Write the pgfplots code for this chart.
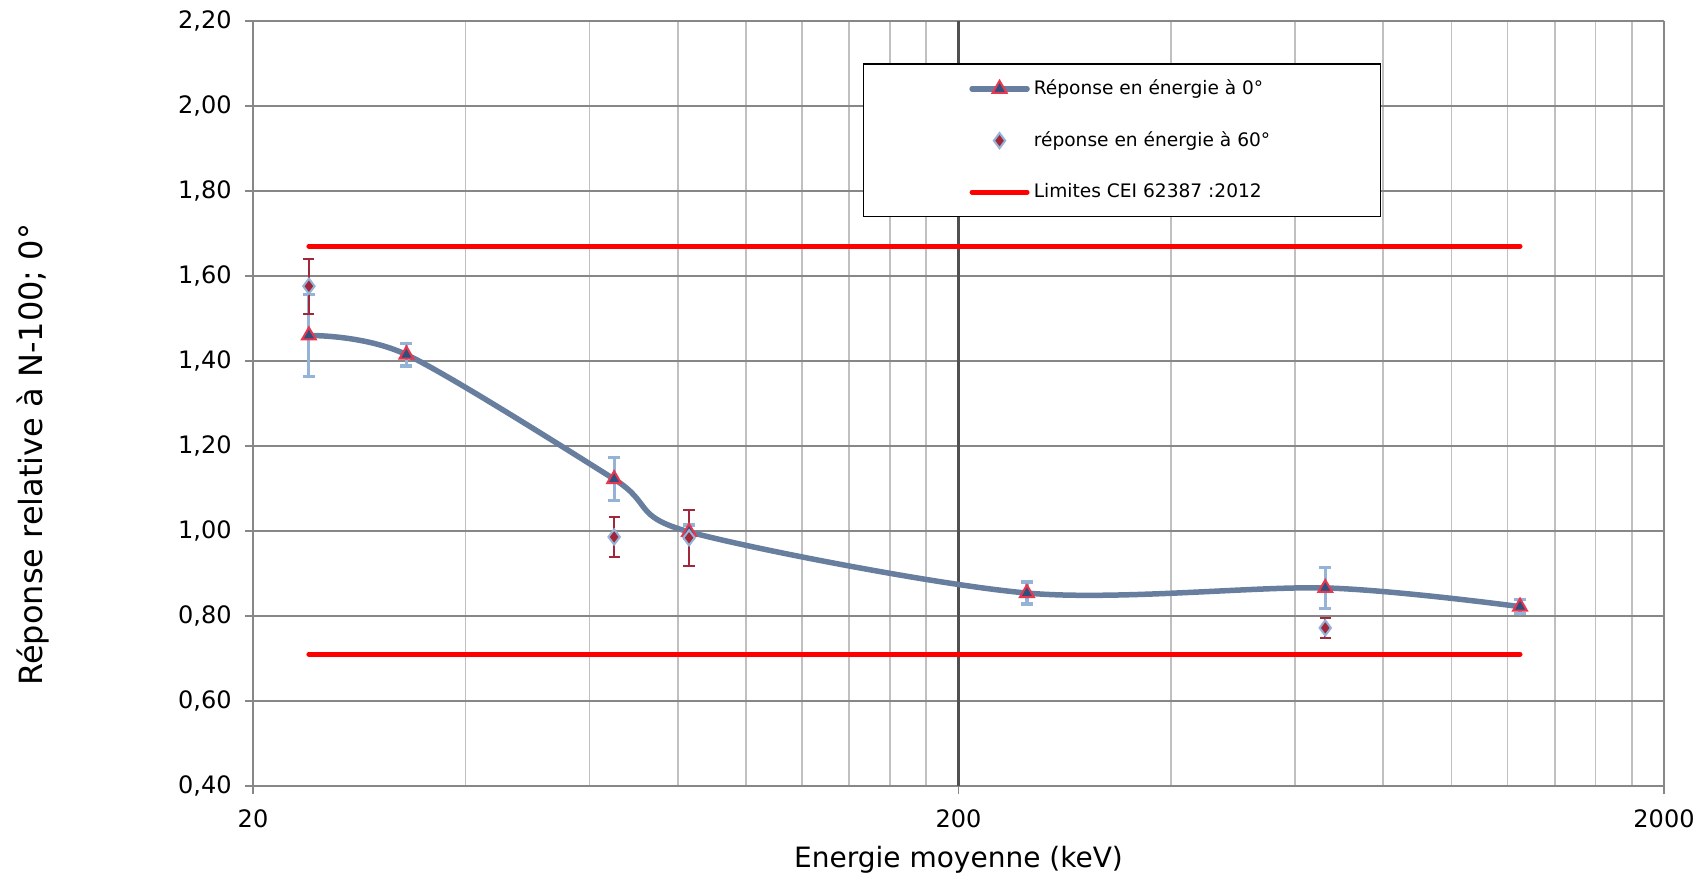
\documentclass[border=0pt]{standalone}
\usepackage{fontspec}
\setmainfont{DejaVu Sans}
\usepackage{pgfplots}
\pgfplotsset{compat=1.18}
\usepackage{pgfplotstable}
\definecolor{curveblue}{RGB}{104,126,158}
\definecolor{tridark}{RGB}{47,79,127}
\definecolor{trired}{RGB}{232,56,80}
\definecolor{errblue}{RGB}{149,179,215}
\definecolor{diared}{RGB}{160,40,58}
\definecolor{gridgray}{RGB}{135,135,135}
\definecolor{minorgray}{RGB}{192,192,192}
\definecolor{darkgrid}{RGB}{80,80,80}

\pgfplotsset{
  legline/.style={legend image code/.code={\draw[mark repeat=2,mark phase=2,##1] plot coordinates {(0pt,0pt)(13.75pt,0pt)(27.5pt,0pt)};}},
  legmark/.style={legend image code/.code={\draw[##1] plot coordinates {(13.75pt,0pt)};}},
  legplain/.style={legend image code/.code={\draw[##1] (0pt,0pt) -- (27.5pt,0pt);}},
}

\pgfplotstableread{
x y e
24 1.460 0.097
33 1.415 0.027
65 1.122 0.050
83 0.998 0.016
250 0.854 0.026
662 0.866 0.048
1250 0.822 0.017
}\zero

\pgfplotstableread{
x y e
24 1.576 0.065
65 0.986 0.047
83 0.984 0.066
662 0.772 0.024
}\sixty

\begin{document}
\begin{tikzpicture}
\useasboundingbox (-126.5pt,-46.5pt) rectangle (726pt,393pt);
\begin{axis}[
  scale only axis,
  width=705.5pt, height=382.5pt,
  xmode=log,
  xmin=20, xmax=2000,
  ymin=0.4, ymax=2.2,
  xtick={20,200,2000},
  xticklabels={20,200,2000},
  minor xtick={40,60,80,100,120,140,160,180,400,600,800,1000,1200,1400,1600,1800},
  ytick={0.4,0.6,0.8,1.0,1.2,1.4,1.6,1.8,2.0,2.2},
  axis lines*=left,
  axis line style={draw=gridgray, line width=1pt},
  tick align=outside,
  major tick length=4pt,
  minor tick length=0pt,
  tick style={draw=gridgray, line width=0.8pt},
  grid=both,
  major grid style={draw=gridgray, line width=1.1pt},
  minor grid style={draw=minorgray, line width=0.8pt},
  extra x ticks={200},
  extra x tick labels={},
  extra x tick style={major grid style={draw=darkgrid, line width=1.1pt}},
  /pgf/number format/assume math mode=true,
  yticklabel style={font=\fontsize{12}{14}\selectfont, anchor=east, xshift=-3.2pt,
    /pgf/number format/.cd, fixed, fixed zerofill, precision=2, use comma},
  xticklabel style={font=\fontsize{12}{14}\selectfont, anchor=north, yshift=-4.5pt},
  xlabel={Energie moyenne (keV)},
  xlabel style={font=\fontsize{14}{16}\selectfont, at={(axis description cs:0.5,0)}, anchor=base, yshift=-41pt},
  ylabel={Réponse relative à N-100; 0°},
  ylabel style={font=\fontsize{16}{18}\selectfont, at={(axis description cs:-0.156,0.433)}, anchor=center},
  legend style={at={(axis description cs:0.432,0.945)}, anchor=north west,
    draw=black, line width=0.75pt, font=\fontsize{9.3}{11}\selectfont,
    inner xsep=53pt, inner ysep=6pt, row sep=13pt},
  legend cell align=left,
]
\addplot[color=curveblue, line width=2.75pt, line cap=round, smooth,
  mark=triangle*, mark options={fill=tridark, draw=trired, line width=1pt, mark size=4pt, solid},
  legline,
  error bars/.cd, y dir=both, y explicit,
  error bar style={color=errblue, line width=1.6pt},
  error mark options={rotate=90, mark size=3pt, line width=1.6pt, color=errblue}]
  table[x=x, y=y, y error=e] {\zero};
\addlegendentry{Réponse en énergie à 0°}
\addplot[only marks, mark=diamond*, mark options={fill=diared, draw=errblue, line width=1pt, mark size=3.8pt},
  legmark,
  error bars/.cd, y dir=both, y explicit,
  error bar style={color=diared, line width=1pt},
  error mark options={rotate=90, mark size=2.8pt, line width=1pt, color=diared}]
  table[x=x, y=y, y error=e] {\sixty};
\addlegendentry{réponse en énergie à 60°}
\addplot[color=red, line width=2.5pt, line cap=round, legplain]
  coordinates {(24,1.67) (1250,1.67)};
\addlegendentry{Limites CEI 62387 :2012}
\addplot[forget plot, color=red, line width=2.5pt, line cap=round]
  coordinates {(24,0.71) (1250,0.71)};
\end{axis}
\end{tikzpicture}
\end{document}
